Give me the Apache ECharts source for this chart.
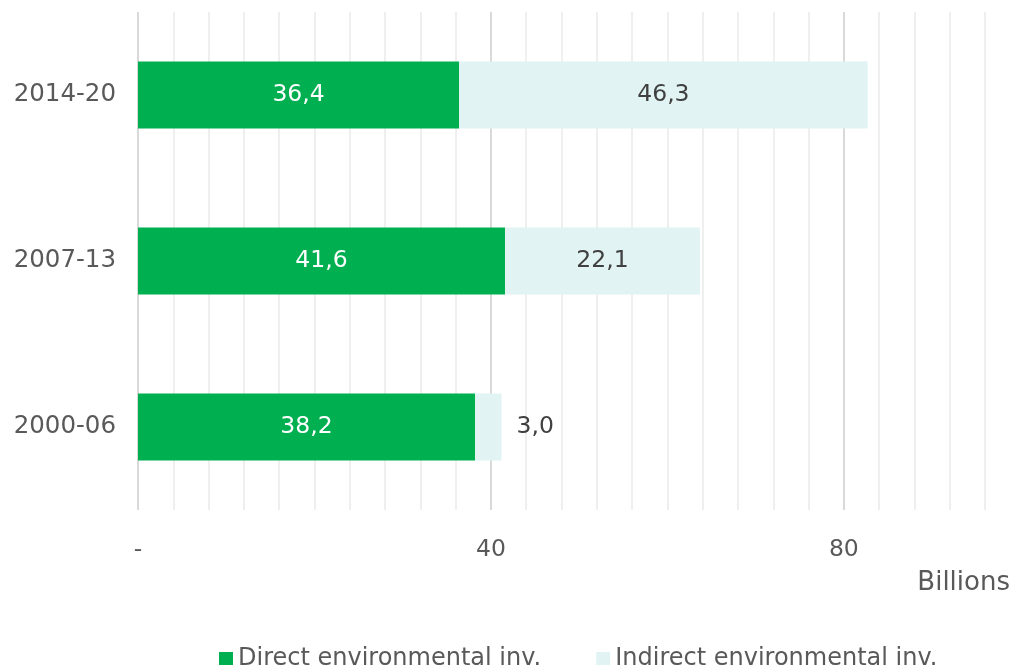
<!DOCTYPE html>
<html>
<head>
<meta charset="utf-8">
<script src="https://cdn.jsdelivr.net/npm/echarts@6/dist/echarts.min.js"></script>
<style>
  html, body { margin: 0; padding: 0; background: #fff; }
  #chart { width: 1013px; height: 665px; }
</style>
</head>
<body>
<div id="chart"></div>
<script>
const periods = ['2000-06', '2007-13', '2014-20']
const directInv = [38.2, 41.6, 36.4]
const indirectInv = [3.0, 22.1, 46.3]
const seriesNames = ['Direct environmental inv.', 'Indirect environmental inv.']
const majorTicks = [0, 40, 80]

const font = 'Verdana, "DejaVu Sans", sans-serif'
const fmt = v => v.toFixed(1).replace('.', ',')

// major line every 40, light minor line every 4
let gridColors = ['#d9d9d9']
for (let i = 0; i < 9; i++) gridColors.push('#efefef')

const chart = echarts.init(document.getElementById('chart'))

let _option = {
    animation: false,
    textStyle: { fontFamily: font },
    grid: { left: 138, right: 28, top: 12, bottom: 155 },
    xAxis: {
        type: 'value',
        min: 0,
        max: 96,
        interval: 4,
        axisLine: { show: false },
        axisTick: { show: false },
        splitLine: { show: true, lineStyle: { color: gridColors, width: 2 } },
        axisLabel: {
            interval: 0,
            margin: 28,
            fontSize: 23.5,
            color: '#595959',
            fontFamily: font,
            formatter: v => {
                if (v === 0) return '-'
                return majorTicks.indexOf(v) >= 0 ? String(v) : ''
            }
        }
    },
    yAxis: {
        type: 'category',
        data: periods,
        axisLine: { show: false },
        axisTick: { show: false },
        axisLabel: { margin: 22, fontSize: 24.5, color: '#595959', fontFamily: font }
    },
    legend: {
        left: 214,
        top: 642,
        itemWidth: 14,
        itemHeight: 14,
        itemGap: 55,
        icon: 'rect',
        textStyle: { fontSize: 24, color: '#595959', fontFamily: font },
        data: seriesNames
    },
    graphic: [{
        type: 'text',
        right: 3,
        top: 570,
        style: { text: 'Billions', fontSize: 26, fill: '#595959', fontFamily: font }
    }],
    series: [
        {
            name: seriesNames[0],
            type: 'bar',
            stack: 'total',
            barWidth: 67,
            itemStyle: { color: '#00b050' },
            label: {
                show: true,
                position: 'inside',
                color: '#ffffff',
                fontSize: 23.5,
                fontFamily: font,
                formatter: p => fmt(p.value)
            },
            data: directInv
        },
        {
            name: seriesNames[1],
            type: 'bar',
            stack: 'total',
            barWidth: 67,
            itemStyle: { color: '#e2f3f3' },
            label: {
                show: true,
                position: 'inside',
                color: '#404040',
                fontSize: 23.5,
                fontFamily: font,
                formatter: p => fmt(p.value)
            },
            // small segments get their label outside on the right
            data: indirectInv.map(v => v < 10
                ? { value: v, label: { position: 'right', distance: 15 } }
                : v)
        }
    ]
}

chart.setOption(_option)
</script>
</body>
</html>
